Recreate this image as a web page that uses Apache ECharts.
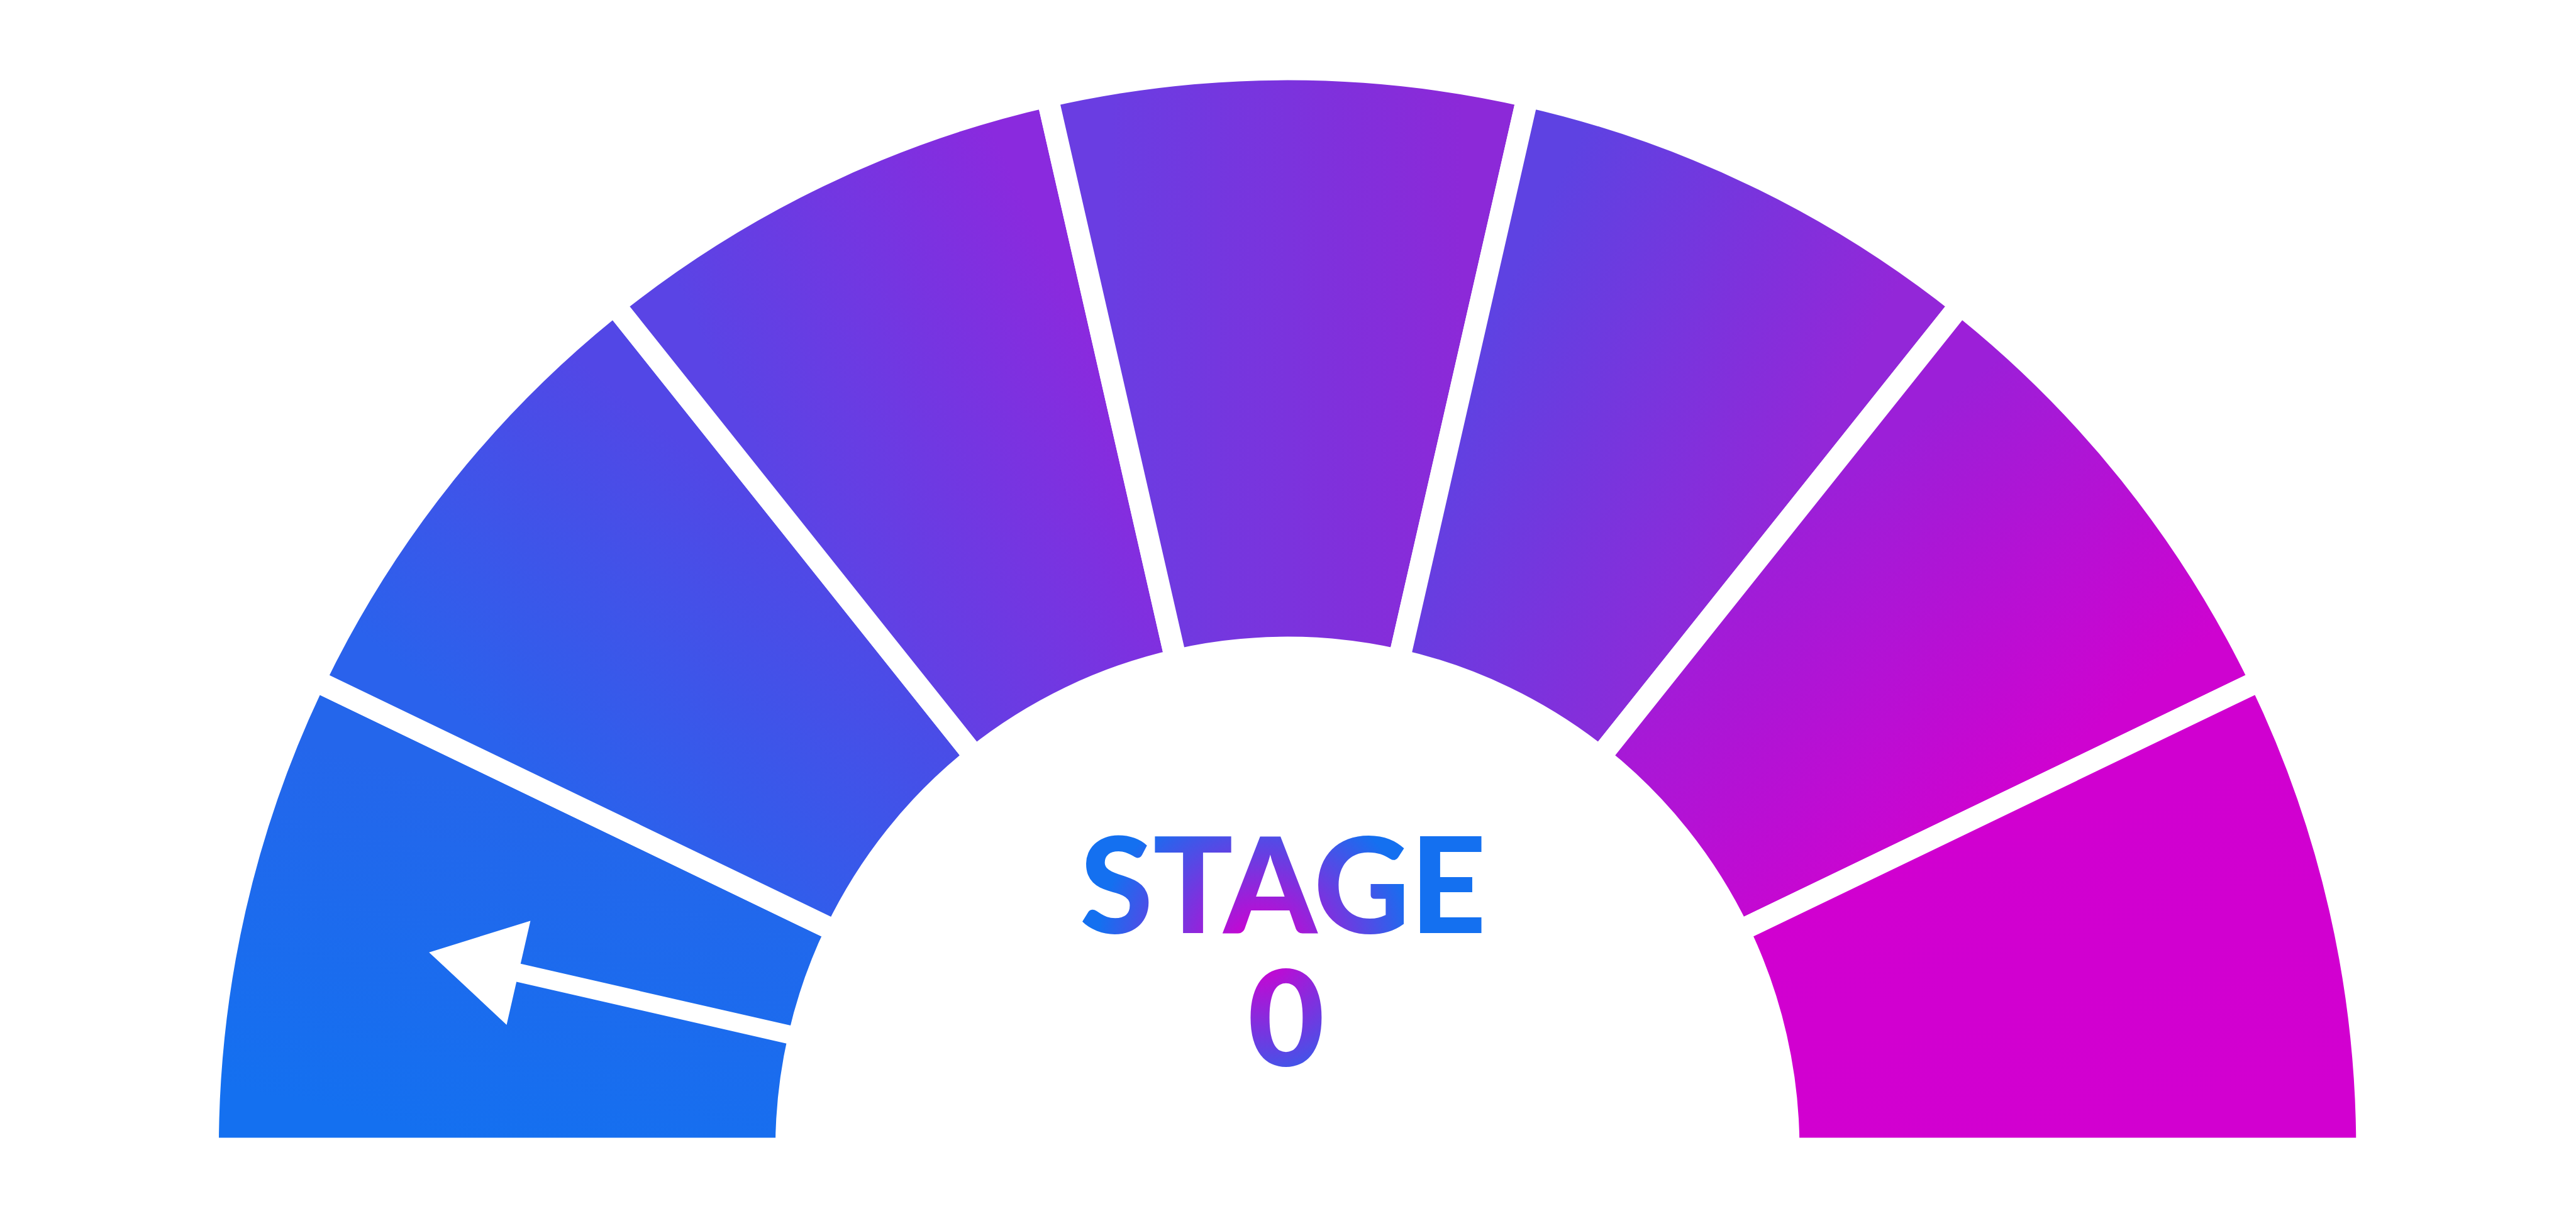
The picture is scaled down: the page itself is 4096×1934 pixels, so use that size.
<!DOCTYPE html>
<html><head><meta charset="utf-8">
<script src="https://cdn.jsdelivr.net/npm/echarts@6/dist/echarts.min.js"></script>
<style>html,body{margin:0;padding:0;background:#fff}#c{width:4096px;height:1934px}</style>
</head><body><div id="c"></div>
<script>
// ---- data ----
const stages = ['0', '1', '2', '3', '4', '5', '6'];
const stageValues = [1, 1, 1, 1, 1, 1, 1];
const currentStage = 0;
const titleText = ['STAGE'];

// ---- styles / layout ----
const S = 0.918;
const cx = 2230 * S, cy = 1990 * S;
const rOut = 1851 * S, rIn = 887 * S, gap = 38 * S;
const startColors = ['#1470F0', '#2A62EC', '#5A44E5', '#6A3DE2', '#5E42E2', '#9C1FD8', '#D000D0'];
const endColors   = ['#2466EB', '#5247E6', '#8A2ADE', '#8C29D8', '#9327D8', '#CE03D0', '#D200D0'];

const total = stageValues.reduce((a, b) => a + b, 0);
const rMid = (rOut + rIn) / 2;
function pt(angDeg, r) {
  const a = angDeg * Math.PI / 180;
  return [cx + r * Math.cos(a), cy - r * Math.sin(a)];
}
let cum = 0;
const pieData = stages.map((s, i) => {
  const a0 = 180 - 180 * cum / total;
  cum += stageValues[i];
  const a1 = 180 - 180 * cum / total;
  const p0 = pt(a0, rMid), p1 = pt(a1, rMid);
  return {
    name: s, value: stageValues[i],
    itemStyle: {
      color: new echarts.graphic.LinearGradient(p0[0], p0[1], p1[0], p1[1],
        [{ offset: 0, color: startColors[i] }, { offset: 1, color: endColors[i] }], true)
    }
  };
});

function textGrad() {
  return new echarts.graphic.RadialGradient(2000, 1510, 255,
    [{ offset: 0, color: '#D000D0' }, { offset: 0.12, color: '#C805D2' }, { offset: 1, color: '#1470F0' }], true);
}
const fontSize = 211;
const textStyleBase = {
  fontFamily: 'Lato', fontWeight: 900, fontSize: fontSize, lineHeight: 170,
  align: 'center', verticalAlign: 'middle'
};

const chart = echarts.init(document.getElementById('c'), null, { renderer: 'svg', devicePixelRatio: 1 });
chart.setOption({
  backgroundColor: '#ffffff',
  animation: false,
  graphic: [
    { type: 'text', z: 20, silent: true,
      style: Object.assign({ x: 2040, y: 1402, text: titleText[0], fill: '#5A44E5' }, textStyleBase) },
    { type: 'text', z: 20, silent: true,
      style: Object.assign({ x: 2045, y: 1613, text: stages[currentStage], fill: '#8A2ADE' }, textStyleBase) }
  ],
  series: [
    {
      type: 'pie',
      center: [cx, cy],
      radius: [rIn - gap / 2, rOut + gap / 2],
      startAngle: 180,
      endAngle: 0,
      clockwise: true,
      silent: true,
      label: { show: false },
      labelLine: { show: false },
      emphasis: { disabled: true },
      itemStyle: { borderColor: '#ffffff', borderWidth: gap, borderJoin: 'miter' },
      data: pieData
    },
    {
      type: 'gauge',
      z: 10,
      center: [cx, cy],
      radius: rOut,
      startAngle: 180,
      endAngle: 0,
      min: 0,
      max: stages.length,
      splitNumber: stages.length,
      axisLine: { show: false },
      splitLine: { show: false },
      axisTick: { show: false },
      axisLabel: { show: false },
      progress: { show: false },
      anchor: { show: false },
      title: { show: false },
      detail: { show: false },
      pointer: {
        show: true,
        icon: 'path://M92.5 0L185 159L108.5 159L108.5 645L76.5 645L76.5 159L0 159Z',
        length: 645 * S,
        width: 185 * S,
        offsetCenter: [0, -880 * S],
        itemStyle: { color: '#ffffff' }
      },
      data: [{ value: currentStage + 0.5, name: titleText[0] }]
    }
  ]
});

// give the rendered text spans their gradient fill (SVG renderer supports gradient text fills)
const zr = chart.getZr();
zr.storage.getDisplayList(true).forEach(function (el) {
  if (el.style && (el.style.text === titleText[0] || el.style.text === stages[currentStage])) {
    el.setStyle('fill', textGrad());
  }
});
zr.refreshImmediately();
</script>
</body></html>
